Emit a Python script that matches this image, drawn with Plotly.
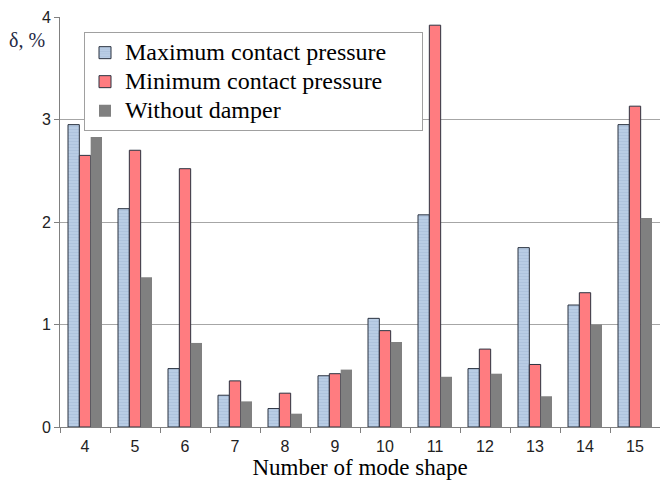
import plotly.graph_objects as go

modes = ["4", "5", "6", "7", "8", "9", "10", "11", "12", "13", "14", "15"]
max_cp = [2.95, 2.13, 0.57, 0.31, 0.18, 0.50, 1.06, 2.07, 0.57, 1.75, 1.19, 2.95]
min_cp = [2.65, 2.70, 2.52, 0.45, 0.33, 0.52, 0.94, 3.92, 0.76, 0.61, 1.31, 3.13]
no_damper = [2.83, 1.46, 0.82, 0.25, 0.13, 0.56, 0.83, 0.49, 0.52, 0.30, 1.00, 2.04]
series_names = ["Maximum contact pressure", "Minimum contact pressure", "Without damper"]
y_ticks = [0, 1, 2, 3, 4]

serif = "Liberation Serif, Times New Roman, serif"
sans = "Liberation Sans, Arial, sans-serif"


def legend_label(s, pad=0):
    return "<span style='font-size:24px'>" + s + "&nbsp;" * pad + "</span>"


fig = go.Figure()
fig.add_trace(go.Bar(
    x=modes, y=max_cp, name=legend_label(series_names[0], 5),
    marker=dict(color="#b9cde5", line=dict(color="#2b3340", width=1),
                pattern=dict(shape="-", fgcolor="#9fb6d3", size=3, solidity=0.3)),
))
fig.add_trace(go.Bar(
    x=modes, y=min_cp, name=legend_label(series_names[1]),
    marker=dict(color="#ff7c80", line=dict(color="#2b3340", width=1)),
))
fig.add_trace(go.Bar(
    x=modes, y=no_damper, name=legend_label(series_names[2]),
    marker=dict(color="#808080", line=dict(color="#808080", width=0)),
))

fig.update_layout(
    width=660, height=487,
    margin=dict(l=60, r=0, t=17, b=60),
    paper_bgcolor="white", plot_bgcolor="white",
    barmode="group", bargap=0.32, bargroupgap=0,
    showlegend=True,
    legend=dict(
        x=0.04, y=0.963, xanchor="left", yanchor="top",
        bgcolor="white", bordercolor="#a0a0a0", borderwidth=1,
        font=dict(family=serif, size=20, color="black"),
        tracegroupgap=0, itemwidth=30,
    ),
    xaxis=dict(
        type="category", tickson="boundaries", ticks="outside", ticklen=5,
        tickcolor="#808080", showline=True, linecolor="#808080", linewidth=1,
        showgrid=False, tickfont=dict(family=sans, size=16, color="#222"),
        ticklabelstandoff=5,
        title=dict(text="Number of mode shape", font=dict(family=serif, size=23, color="black"), standoff=4),
    ),
    yaxis=dict(
        range=[0, 4], tickvals=y_ticks, ticks="outside", ticklen=5,
        tickcolor="#808080", showline=True, linecolor="#808080", linewidth=1,
        showgrid=True, gridcolor="#a6a6a6", gridwidth=1,
        tickfont=dict(family=sans, size=16, color="#222"), zeroline=False,
    ),
    annotations=[dict(
        text="δ, %", xref="paper", yref="paper", x=-0.088, y=0.945,
        xanchor="left", yanchor="middle", showarrow=False,
        font=dict(family=serif, size=20, color="#1f2a44"),
    )],
)

fig.write_html("out.html")
